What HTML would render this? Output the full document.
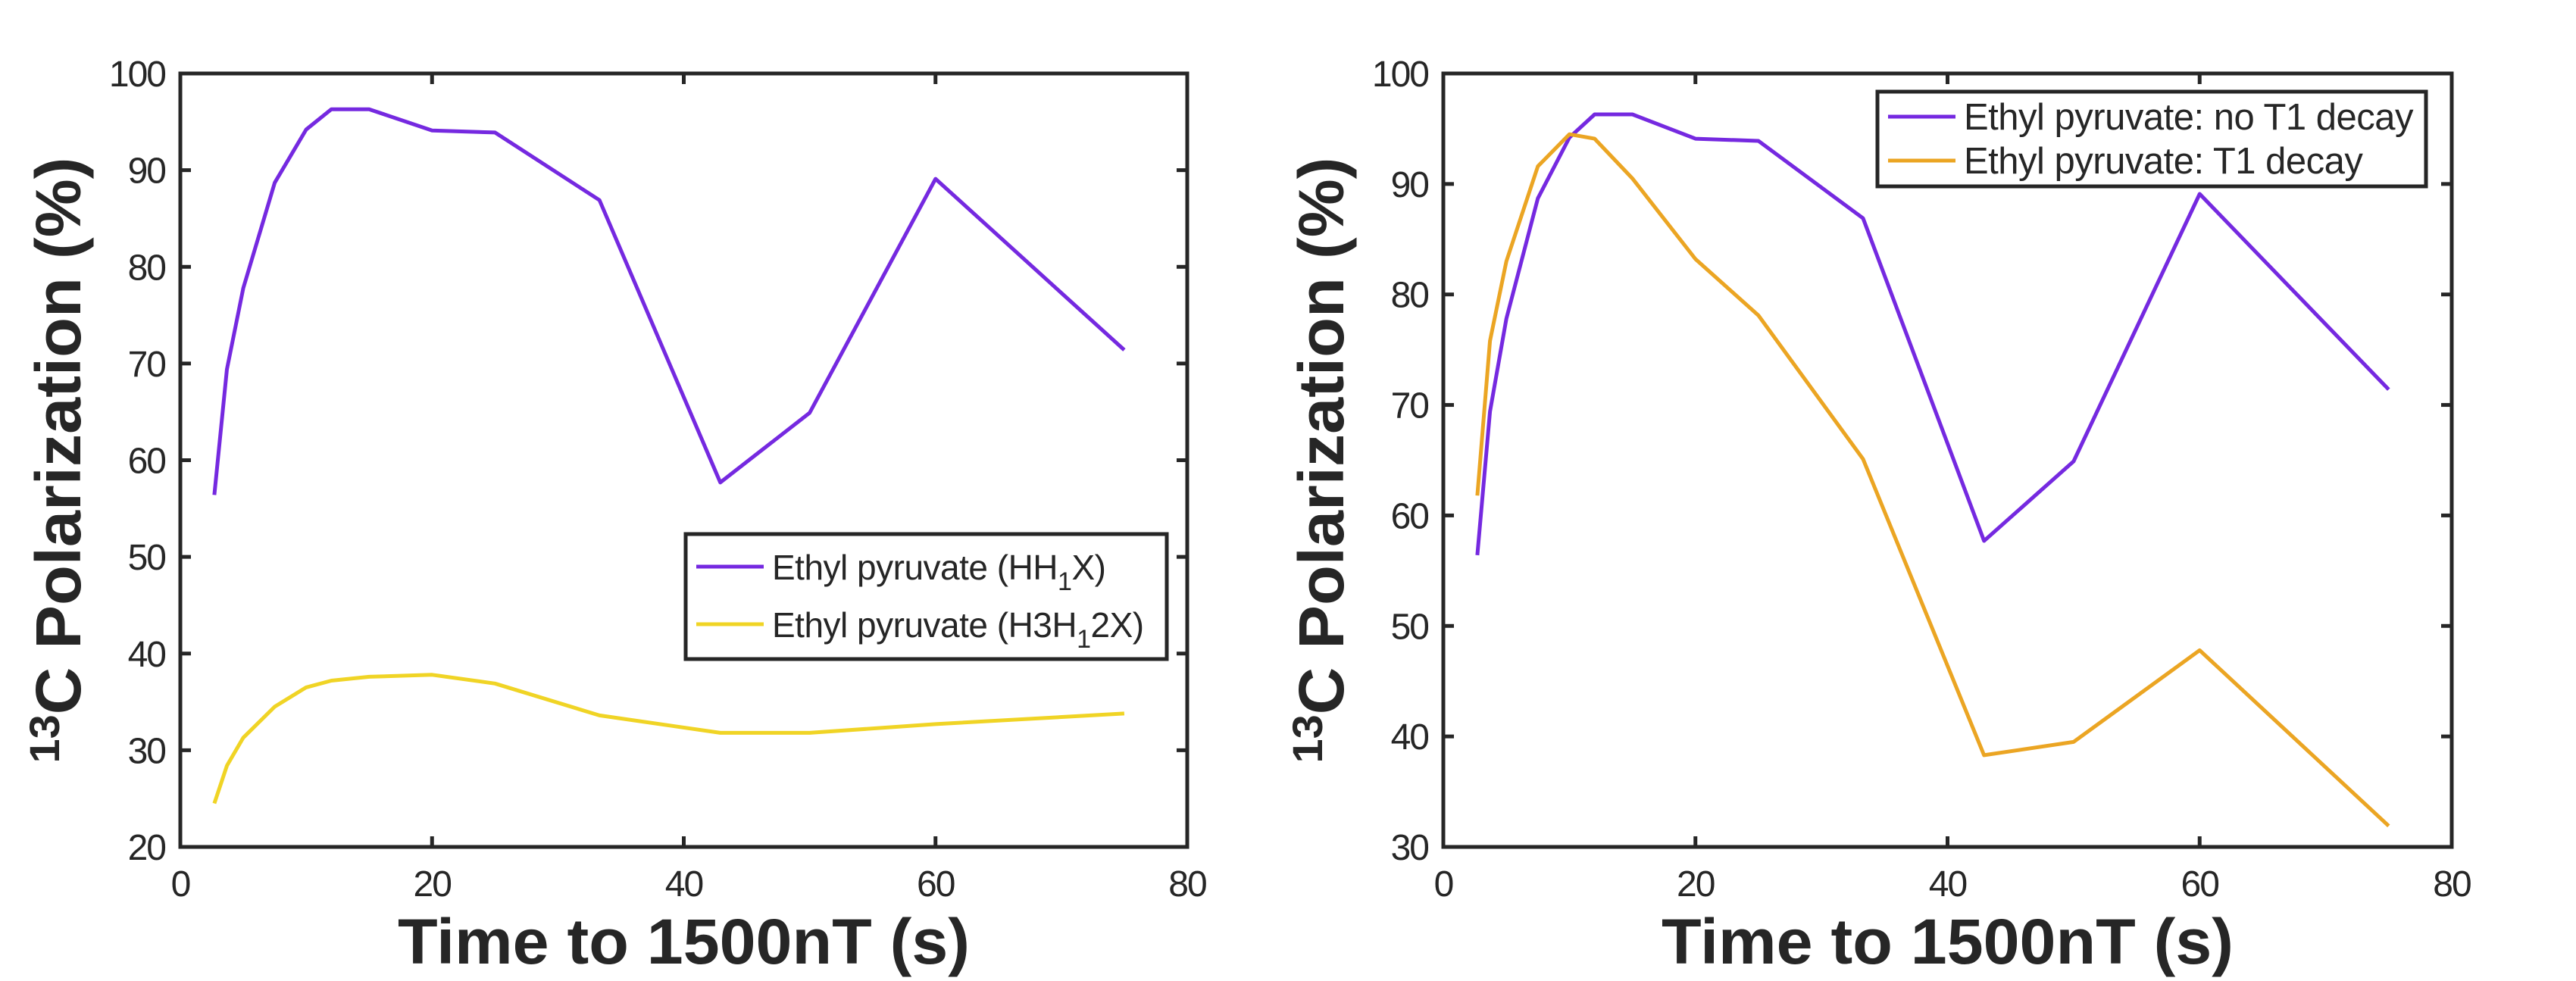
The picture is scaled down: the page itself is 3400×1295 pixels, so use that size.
<!DOCTYPE html>
<html><head><meta charset="utf-8"><style>
body{margin:0;background:#fff;width:3400px;height:1295px;overflow:hidden}
svg{display:block}
text{font-family:"Liberation Sans",Arial,sans-serif;fill:#262626}
</style></head><body>
<svg id="chart" width="3400" height="1295" xmlns="http://www.w3.org/2000/svg"></svg>
<script>
const timeValues = [2.7, 3.7, 5, 7.5, 10, 12, 15, 20, 25, 33.3, 42.9, 50, 60, 75];
const hh1xValues = [56.4, 69.4, 77.8, 88.7, 94.2, 96.3, 96.3, 94.1, 93.9, 86.9, 57.7, 64.9, 89.1, 71.4];
const h3h12xValues = [24.5, 28.4, 31.3, 34.5, 36.5, 37.2, 37.6, 37.8, 36.9, 33.6, 31.8, 31.8, 32.7, 33.8];
const t1DecayValues = [61.8, 75.8, 83.0, 91.6, 94.5, 94.1, 90.5, 83.2, 78.1, 65.1, 38.3, 39.5, 47.8, 31.9];
const xTicks = [0, 20, 40, 60, 80];
const leftYTicks = [20, 30, 40, 50, 60, 70, 80, 90, 100];
const rightYTicks = [30, 40, 50, 60, 70, 80, 90, 100];

const NS = "http://www.w3.org/2000/svg";
const svg = document.getElementById('chart');
function mk(tag, attrs, parent, txt) {
  const e = document.createElementNS(NS, tag);
  for (const k in attrs) e.setAttribute(k, attrs[k]);
  if (txt !== undefined) e.textContent = txt;
  (parent || svg).appendChild(e);
  return e;
}

function panel(name, L, R, T, B, ymin, ymax, yTicks, series, legend) {
  const g = mk('g', {});
  
  
  const sx = v => L + (v - 0) / 80 * (R - L);
  const sy = v => B - (v - ymin) / (ymax - ymin) * (B - T);
  series.forEach(s => {
    const pts = timeValues.map((t, i) => sx(t).toFixed(1) + ',' + sy(s.vals[i]).toFixed(1)).join(' ');
    const pl = mk('polyline', {points: pts, fill: 'none', stroke: s.color, 'stroke-width': 5, 'stroke-linejoin': 'round'}, g);
    
    
  });
  const box = mk('rect', {x: L, y: T, width: R - L, height: B - T, fill: 'none', stroke: '#262626', 'stroke-width': 5}, g);
  
  
  xTicks.forEach(t => {
    const x = sx(t);
    mk('line', {x1: x, y1: B, x2: x, y2: B - 14, stroke: '#262626', 'stroke-width': 5}, g);
    mk('line', {x1: x, y1: T, x2: x, y2: T + 14, stroke: '#262626', 'stroke-width': 5}, g);
    const lb = mk('text', {x: x, y: 1183, 'font-size': 48, 'text-anchor': 'middle', 'letter-spacing': -2}, g, String(t));
    
    
  });
  yTicks.forEach(t => {
    const y = sy(t);
    mk('line', {x1: L, y1: y, x2: L + 14, y2: y, stroke: '#262626', 'stroke-width': 5}, g);
    mk('line', {x1: R, y1: y, x2: R - 14, y2: y, stroke: '#262626', 'stroke-width': 5}, g);
    const lb = mk('text', {x: L - 20, y: y + 17, 'font-size': 48, 'text-anchor': 'end', 'letter-spacing': -2}, g, String(t));
    
    
  });
  const xt = mk('text', {x: (L + R) / 2, y: 1272, 'font-size': 84, 'font-weight': 'bold', 'text-anchor': 'middle', textLength: 755, lengthAdjust: 'spacingAndGlyphs'}, g, 'Time to 1500nT (s)');
  
  
  const yt = mk('text', {transform: `translate(${L - 132},${(T + B) / 2}) rotate(-90)`, 'font-size': 84, 'font-weight': 'bold', 'text-anchor': 'middle', textLength: 800, lengthAdjust: 'spacingAndGlyphs'}, g);
  
  
  mk('tspan', {'font-size': 56, dy: -28}, yt, '13');
  mk('tspan', {dy: 28}, yt, 'C Polarization (%)');
  const lg = mk('g', {}, g);
  
  
  mk('rect', {x: legend.x, y: legend.y, width: legend.w, height: legend.h, fill: '#fff', stroke: '#262626', 'stroke-width': 5}, lg);
  legend.items.forEach((it, i) => {
    const y = legend.rows[i];
    const en = mk('g', {}, lg);
    
    
    mk('line', {x1: legend.x + 14, y1: y, x2: legend.x + 103, y2: y, stroke: it.color, 'stroke-width': 5}, en);
    const tx = mk('text', {x: legend.x + 114, y: y + 17, 'font-size': legend.fs, 'letter-spacing': -0.5}, en);
    it.parts.forEach(p => {
      if (p.sub) mk('tspan', {'font-size': 34, dy: 14}, tx, p.t);
      else mk('tspan', p.after ? {dy: -14} : {}, tx, p.t);
    });
  });
}

const purple = '#7529e0', yellow = '#f0d425', orange = '#eba523';
panel('left-chart', 238, 1567, 97, 1118, 20, 100, leftYTicks,
  [{name: 'line-hh1x', vals: hh1xValues, color: purple}, {name: 'line-h3h12x', vals: h3h12xValues, color: yellow}],
  {x: 905, y: 705, w: 635, h: 165, fs: 46, rows: [748, 824], items: [
    {color: purple, parts: [{t: 'Ethyl pyruvate (HH'}, {t: '1', sub: true}, {t: 'X)', after: true}]},
    {color: yellow, parts: [{t: 'Ethyl pyruvate (H3H'}, {t: '1', sub: true}, {t: '2X)', after: true}]}]});
panel('right-chart', 1905, 3236, 97, 1118, 30, 100, rightYTicks,
  [{name: 'line-no-t1-decay', vals: hh1xValues, color: purple}, {name: 'line-t1-decay', vals: t1DecayValues, color: orange}],
  {x: 2478, y: 121, w: 724, h: 125, fs: 49, rows: [154, 212], items: [
    {color: purple, parts: [{t: 'Ethyl pyruvate: no T1 decay'}]},
    {color: orange, parts: [{t: 'Ethyl pyruvate: T1 decay'}]}]});
</script>
</body></html>
